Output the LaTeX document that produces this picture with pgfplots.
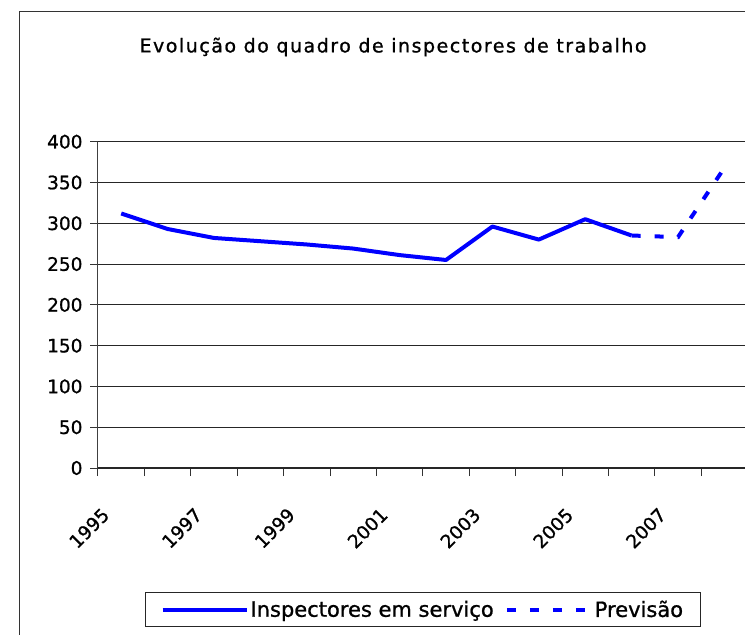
\documentclass[border=0pt]{standalone}
\usepackage{pgfplots}
\pgfplotsset{compat=1.18}
\usepackage{fontspec}
\setmainfont[FakeBold=1]{DejaVu Sans}
\newfontfamily\titlefont[LetterSpace=8,FakeBold=1]{DejaVu Sans}
\definecolor{serie}{HTML}{0000FF}

\begin{document}
\begin{tikzpicture}[x=1pt,y=1pt]
\useasboundingbox (0,0) rectangle (745,635);
\clip (0,0) rectangle (745,635);
% moldura do grafico (cortada a direita e em baixo)
\draw[black!80, line width=1pt] (19,-10) rectangle (800,623);
\node[font=\titlefont\fontsize{19}{22}\selectfont] at (393,588)
  {Evolução do quadro de inspectores de trabalho};

\begin{axis}[at={(98pt,167pt)}, anchor=south west,
  scale only axis, width=649.6pt, height=326.3pt,
  xmin=1994.5, xmax=2008.5, ymin=0, ymax=400,
  axis x line*=bottom, axis y line*=left,
  x axis line style={black!85, line width=1.5pt, -},
  y axis line style={black!75, line width=1pt, -},
  xtick={1995,1997,...,2007}, major x tick style={draw=none},
  minor xtick={1994.5,1995.5,...,2008.5},
  ytick={0,50,...,400},
  tick align=outside, major tick length=8pt, minor tick length=8pt,
  every tick/.style={black!80, line width=1pt},
  ymajorgrids, major grid style={black!85, line width=1pt},
  /pgf/number format/assume math mode=true,
  /pgf/number format/1000 sep={},
  tick label style={font=\fontsize{18.5}{20}\selectfont},
  xticklabel style={anchor=east, xshift=-13pt, yshift=-33pt, rotate=45},
  yticklabel style={xshift=-4pt},
  legend columns=2,
  legend style={at={(0.5,-0.4337)}, anchor=center, draw=black!85,
    line width=1pt, font=\fontsize{21}{24}\selectfont,
    inner xsep=15pt, inner ysep=6pt,
    /tikz/every even column/.append style={column sep=9pt}},
  legend image code/.code={\draw[#1] (0pt,0pt) -- (84pt,0pt);},
  clip=false]
\addplot[serie, line width=4pt, line join=round] coordinates {
  (1995,312) (1996,293) (1997,282) (1998,278) (1999,274) (2000,269)
  (2001,261) (2002,255) (2003,296) (2004,280) (2005,305) (2006,285)};
\addlegendentry{Inspectores em serviço}
\addplot[serie, line width=4pt, dash pattern=on 9pt off 14pt] coordinates {
  (2006,285) (2007,283) (2008,368)};
\addlegendentry{Previsão}
\end{axis}
\end{tikzpicture}
\end{document}
